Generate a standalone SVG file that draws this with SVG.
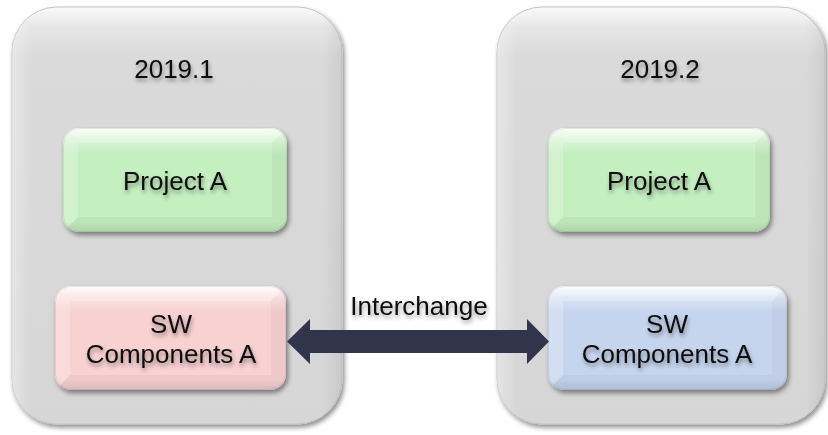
<svg xmlns="http://www.w3.org/2000/svg" width="828" height="435" viewBox="0 0 828 435">
  <defs>
    <filter id="shadow" x="-10%" y="-10%" width="125%" height="125%">
      <feGaussianBlur in="SourceAlpha" stdDeviation="2.5"/>
      <feOffset dx="2" dy="3" result="o"/>
      <feComponentTransfer><feFuncA type="linear" slope="0.45"/></feComponentTransfer>
      <feMerge><feMergeNode/><feMergeNode in="SourceGraphic"/></feMerge>
    </filter>
    <filter id="tshadow" x="-10%" y="-30%" width="120%" height="180%">
      <feGaussianBlur in="SourceAlpha" stdDeviation="2"/>
      <feOffset dx="1" dy="3" result="o"/>
      <feComponentTransfer><feFuncA type="linear" slope="0.4"/></feComponentTransfer>
      <feMerge><feMergeNode/><feMergeNode in="SourceGraphic"/></feMerge>
    </filter>
    <linearGradient id="contG" x1="0" y1="0" x2="0" y2="1">
      <stop offset="0" stop-color="#fafafa"/>
      <stop offset="0.05" stop-color="#e6e6e6"/>
      <stop offset="0.12" stop-color="#dadada"/>
      <stop offset="1" stop-color="#d6d6d6"/>
    </linearGradient>
    <linearGradient id="contSide" x1="0" y1="0" x2="1" y2="0">
      <stop offset="0" stop-color="#ffffff" stop-opacity="0.35"/>
      <stop offset="0.06" stop-color="#ffffff" stop-opacity="0"/>
      <stop offset="0.94" stop-color="#000000" stop-opacity="0"/>
      <stop offset="1" stop-color="#000000" stop-opacity="0.06"/>
    </linearGradient>
    <linearGradient id="hiG" x1="0" y1="0" x2="0" y2="1">
      <stop offset="0" stop-color="#ffffff" stop-opacity="0.9"/>
      <stop offset="0.12" stop-color="#ffffff" stop-opacity="0.35"/>
      <stop offset="0.25" stop-color="#ffffff" stop-opacity="0"/>
      <stop offset="0.9" stop-color="#000000" stop-opacity="0"/>
      <stop offset="1" stop-color="#000000" stop-opacity="0.08"/>
    </linearGradient>
    <clipPath id="c1"><rect x="63" y="128" width="224" height="104" rx="16"/></clipPath>
    <clipPath id="c2"><rect x="55" y="286" width="231" height="104" rx="16"/></clipPath>
    <clipPath id="c3"><rect x="548" y="128" width="222" height="104" rx="16"/></clipPath>
    <clipPath id="c4"><rect x="548" y="286" width="239" height="104" rx="16"/></clipPath>
  </defs>
  <style>
    .cont { fill: url(#contG); stroke: #c4c4c4; stroke-width: 1; }
    .contSide { fill: url(#contSide); }
    .hi { fill: url(#hiG); }
    .green { fill: #c4efbf; }
    .pink { fill: #f8d1d1; }
    .blue { fill: #c6d5ee; }
    .fl { fill: #ffffff; opacity: 0.22; }
    .fd { fill: #000000; opacity: 0.035; }
    .edge { fill: none; stroke: #000000; stroke-opacity: 0.08; stroke-width: 1; }
    text { font-family: "Liberation Sans", Arial, sans-serif; font-size: 26px; fill: #0d0d0d; text-anchor: middle; }
    .arrow { fill: #30354c; }
  </style>

  <g id="container-2019-1" filter="url(#shadow)">
    <rect class="cont" x="12" y="7" width="330" height="417" rx="45"/>
    <rect class="contSide" x="12" y="7" width="330" height="417" rx="45"/>
    <text x="174" y="78" filter="url(#tshadow)">2019.1</text>
  </g>

  <g id="container-2019-2" filter="url(#shadow)">
    <rect class="cont" x="497" y="7" width="328" height="417" rx="45"/>
    <rect class="contSide" x="497" y="7" width="328" height="417" rx="45"/>
    <text x="660" y="78" filter="url(#tshadow)">2019.2</text>
  </g>

  <g id="project-a-1">
    <g filter="url(#shadow)">
      <rect class="green" x="63" y="128" width="224" height="104" rx="16"/>
    </g>
    <g clip-path="url(#c1)">
      <polygon class="fl" points="63,128 287,128 272,143 78,143"/>
      <polygon class="fl" points="63,128 78,143 78,217 63,232" opacity="0.12"/>
      <polygon class="fd" points="287,128 287,232 272,217 272,143"/>
      <polygon class="fd" points="63,232 78,217 272,217 287,232"/>
      <rect class="hi" x="63" y="128" width="224" height="104"/>
    </g>
    <rect class="edge" x="63.5" y="128.5" width="223" height="103" rx="16"/>
    <text x="175" y="190" filter="url(#tshadow)">Project A</text>
  </g>

  <g id="sw-components-a-1">
    <g filter="url(#shadow)">
      <rect class="pink" x="55" y="286" width="231" height="104" rx="16"/>
    </g>
    <g clip-path="url(#c2)">
      <polygon class="fl" points="55,286 286,286 271,301 70,301"/>
      <polygon class="fl" points="55,286 70,301 70,375 55,390" opacity="0.12"/>
      <polygon class="fd" points="286,286 286,390 271,375 271,301"/>
      <polygon class="fd" points="55,390 70,375 271,375 286,390"/>
      <rect class="hi" x="55" y="286" width="231" height="104"/>
    </g>
    <rect class="edge" x="55.5" y="286.5" width="230" height="103" rx="16"/>
    <text x="171" y="333" filter="url(#tshadow)">SW</text>
    <text x="171" y="363" filter="url(#tshadow)">Components A</text>
  </g>

  <g id="project-a-2">
    <g filter="url(#shadow)">
      <rect class="green" x="548" y="128" width="222" height="104" rx="16"/>
    </g>
    <g clip-path="url(#c3)">
      <polygon class="fl" points="548,128 770,128 755,143 563,143"/>
      <polygon class="fl" points="548,128 563,143 563,217 548,232" opacity="0.12"/>
      <polygon class="fd" points="770,128 770,232 755,217 755,143"/>
      <polygon class="fd" points="548,232 563,217 755,217 770,232"/>
      <rect class="hi" x="548" y="128" width="222" height="104"/>
    </g>
    <rect class="edge" x="548.5" y="128.5" width="221" height="103" rx="16"/>
    <text x="659" y="190" filter="url(#tshadow)">Project A</text>
  </g>

  <g id="sw-components-a-2">
    <g filter="url(#shadow)">
      <rect class="blue" x="548" y="286" width="239" height="104" rx="16"/>
    </g>
    <g clip-path="url(#c4)">
      <polygon class="fl" points="548,286 787,286 772,301 563,301"/>
      <polygon class="fl" points="548,286 563,301 563,375 548,390" opacity="0.12"/>
      <polygon class="fd" points="787,286 787,390 772,375 772,301"/>
      <polygon class="fd" points="548,390 563,375 772,375 787,390"/>
      <rect class="hi" x="548" y="286" width="239" height="104"/>
    </g>
    <rect class="edge" x="548.5" y="286.5" width="238" height="103" rx="16"/>
    <text x="667" y="333" filter="url(#tshadow)">SW</text>
    <text x="667" y="363" filter="url(#tshadow)">Components A</text>
  </g>

  <g id="connectors">
    <polygon class="arrow" points="287,341.5 310,319 310,330 527,330 527,319 549,341.5 527,364 527,353 310,353 310,364"/>
    <text x="419" y="315" filter="url(#tshadow)">Interchange</text>
  </g>
</svg>
